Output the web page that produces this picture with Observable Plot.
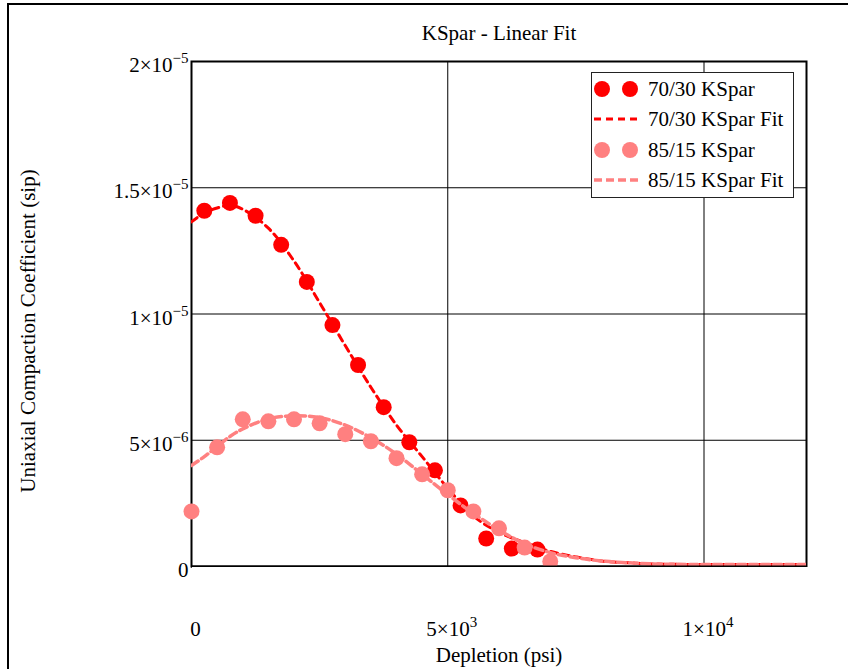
<!DOCTYPE html>
<html>
<head>
<meta charset="utf-8">
<script src="https://cdn.jsdelivr.net/npm/d3@7"></script>
<script src="https://cdn.jsdelivr.net/npm/@observablehq/plot@0.6"></script>
<style>
  body { margin: 0; background: #fff; }
  #chart { position: relative; width: 848px; height: 669px; overflow: hidden; background: #fff;
           font-family: "Liberation Serif", "Times New Roman", serif; }
  #page-border { position: absolute; left: 7px; top: 3px; width: 1000px; height: 1000px;
                 border-left: 2px solid #000; border-top: 2px solid #000; }
  #plot { position: absolute; left: 0; top: 0; }
  #plot svg text { font-family: "Liberation Serif", "Times New Roman", serif; font-size: 21px; fill: #000; }
  #legend { position: absolute; left: 591px; top: 72px; width: 201px; height: 124px;
            border: 1.5px solid #222; background: #fff; }
  #legend svg { display: block; }
  #legend text { font-family: "Liberation Serif", "Times New Roman", serif; font-size: 21px; fill: #000; }
</style>
</head>
<body>
<div id="chart">
  <div id="page-border"></div>
  <div id="plot"></div>
  <div id="legend"></div>
</div>
<script>
// Measured samples (depletion in psi, uniaxial compaction coefficient in 1/psi)
const depletion7030 = [250, 750, 1250, 1750, 2250, 2750, 3250, 3750, 4250, 4750, 5250, 5750, 6250, 6750];
const coef7030 = [1.409e-5, 1.440e-5, 1.389e-5, 1.274e-5, 1.127e-5, 9.56e-6, 7.98e-6, 6.31e-6,
                  4.92e-6, 3.81e-6, 2.42e-6, 1.11e-6, 0.71e-6, 0.67e-6];

const depletion8515 = [0, 500, 1000, 1500, 2000, 2500, 3000, 3500, 4000, 4500, 5000, 5500, 6000, 6500, 7000];
const coef8515 = [2.18e-6, 4.72e-6, 5.83e-6, 5.75e-6, 5.83e-6, 5.67e-6, 5.24e-6, 4.96e-6,
                  4.29e-6, 3.65e-6, 3.02e-6, 2.18e-6, 1.51e-6, 0.75e-6, 0.20e-6];

// Linear-fit curves evaluated along the depletion range
const fitDepletion = [0, 250, 500, 750, 1000, 1500, 2000, 2500, 3000, 3500, 4000, 4500, 5000,
                      5500, 6000, 6500, 7000, 7500, 8000, 8500, 9000, 10000, 11000, 12000];
const fit7030 = [13.65e-6, 14.0e-6, 14.2e-6, 14.3e-6, 14.15e-6, 13.4e-6, 12.1e-6, 10.45e-6, 8.75e-6,
                 7.1e-6, 5.6e-6, 4.35e-6, 3.1e-6, 2.0e-6, 1.35e-6, 0.95e-6, 0.6e-6, 0.38e-6, 0.22e-6,
                 0.15e-6, 0.1e-6, 0.08e-6, 0.08e-6, 0.08e-6];
const fit8515 = [4.0e-6, 4.35e-6, 4.75e-6, 5.15e-6, 5.45e-6, 5.85e-6, 5.97e-6, 5.9e-6, 5.6e-6,
                 5.1e-6, 4.45e-6, 3.65e-6, 2.85e-6, 2.1e-6, 1.45e-6, 0.9e-6, 0.55e-6, 0.35e-6, 0.22e-6,
                 0.15e-6, 0.1e-6, 0.08e-6, 0.08e-6, 0.08e-6];

const xTicks = [0, 5000, 10000];
const yTicks = [0, 5e-6, 1e-5, 1.5e-5, 2e-5];

const seriesNames = ["70/30 KSpar", "70/30 KSpar Fit", "85/15 KSpar", "85/15 KSpar Fit"];
const red = "#ff0000";
const pink = "#ff8080";

const pts7030 = depletion7030.map((x, i) => ({x, y: coef7030[i]}));
const pts8515 = depletion8515.map((x, i) => ({x, y: coef8515[i]}));
const line7030 = fitDepletion.map((x, i) => ({x, y: fit7030[i]}));
const line8515 = fitDepletion.map((x, i) => ({x, y: fit8515[i]}));

// Scientific notation "m×10^e" (exponent rendered as superscript afterwards)
function sci(d) {
  if (d === 0) return "0";
  const e = Math.floor(Math.log10(Math.abs(d)) + 1e-9);
  const m = +(d / Math.pow(10, e)).toFixed(2);
  return `${m}×10^${e < 0 ? "\u2212" + (-e) : e}`;
}

const chart = Plot.plot({
  width: 848,
  height: 669,
  marginLeft: 191,
  marginRight: 42,
  marginTop: 61,
  marginBottom: 103,
  style: "font-family: 'Liberation Serif', 'Times New Roman', serif; font-size: 21px; background: transparent; color: #000;",
  x: {domain: [0, 12000], ticks: xTicks},
  y: {domain: [0, 2e-5], ticks: yTicks},
  marks: [
    Plot.gridX(xTicks, {stroke: "#000", strokeOpacity: 1, strokeWidth: 1}),
    Plot.gridY(yTicks, {stroke: "#000", strokeOpacity: 1, strokeWidth: 1}),
    Plot.axisX(xTicks, {tickSize: 0, tickPadding: 55, tickFormat: sci, fontSize: 21, dx: 4, label: null}),
    Plot.axisY(yTicks, {tickSize: 0, tickPadding: 3, tickFormat: sci, fontSize: 21, dy: 4, label: null}),
    Plot.frame({stroke: "#000", strokeWidth: 2}),
    Plot.dot(pts7030, {x: "x", y: "y", r: 8, fill: red}),
    Plot.line(line7030, {x: "x", y: "y", stroke: red, strokeWidth: 3, strokeDasharray: "7,5",
                         curve: "catmull-rom", clip: true}),
    Plot.dot(pts8515, {x: "x", y: "y", r: 8, fill: pink}),
    Plot.line(line8515, {x: "x", y: "y", stroke: pink, strokeWidth: 3.5, strokeDasharray: "8,4",
                         curve: "catmull-rom", clip: true}),
    Plot.ruleY([0], {stroke: "#000", strokeWidth: 2}),
    Plot.text(["KSpar - Linear Fit"], {frameAnchor: "top", lineAnchor: "middle", dy: -28, fontSize: 21, fill: "#000"}),
    Plot.text(["Depletion (psi)"], {frameAnchor: "bottom", lineAnchor: "middle", dy: 89, fontSize: 21, fill: "#000"}),
    Plot.text(["Uniaxial Compaction Coefficient (sip)"], {frameAnchor: "left", textAnchor: "middle",
                dx: -163, dy: 17, rotate: -90, fontSize: 21, fill: "#000"})
  ]
});

// Turn "m×10^e" tick labels into a base with a raised exponent
chart.querySelectorAll("text").forEach(t => {
  const s = t.textContent;
  if (!s.includes("^")) return;
  const [base, exp] = s.split("^");
  t.textContent = base;
  const sup = document.createElementNS("http://www.w3.org/2000/svg", "tspan");
  sup.setAttribute("style", "font-size: 15px;");
  sup.setAttribute("dy", "-9");
  sup.textContent = exp;
  t.appendChild(sup);
});

document.getElementById("plot").appendChild(chart);

// Keep markers from spilling below the depletion axis
const bottomMask = document.createElement("div");
bottomMask.style.cssText = "position:absolute;left:192px;top:567px;width:616px;height:10px;background:#fff;";
document.getElementById("chart").insertBefore(bottomMask, document.getElementById("legend"));

// Legend box with marker / dashed-line swatches
const legendRows = [
  {name: seriesNames[0], kind: "dot", color: red, y: 16},
  {name: seriesNames[1], kind: "line", color: red, y: 46, dash: "7,5", w: 3},
  {name: seriesNames[2], kind: "dot", color: pink, y: 77},
  {name: seriesNames[3], kind: "line", color: pink, y: 107, dash: "8,4", w: 3.5}
];
const lg = d3.select("#legend").append("svg").attr("width", 201).attr("height", 124);
legendRows.forEach(r => {
  if (r.kind === "dot") {
    lg.append("circle").attr("cx", 10).attr("cy", r.y).attr("r", 8).attr("fill", r.color);
    lg.append("circle").attr("cx", 38).attr("cy", r.y).attr("r", 8).attr("fill", r.color);
  } else {
    lg.append("line").attr("x1", 2).attr("x2", 48).attr("y1", r.y).attr("y2", r.y)
      .attr("stroke", r.color).attr("stroke-width", r.w).attr("stroke-dasharray", r.dash);
  }
  lg.append("text").attr("x", 56).attr("y", r.y + 7).text(r.name);
});
</script>
</body>
</html>
